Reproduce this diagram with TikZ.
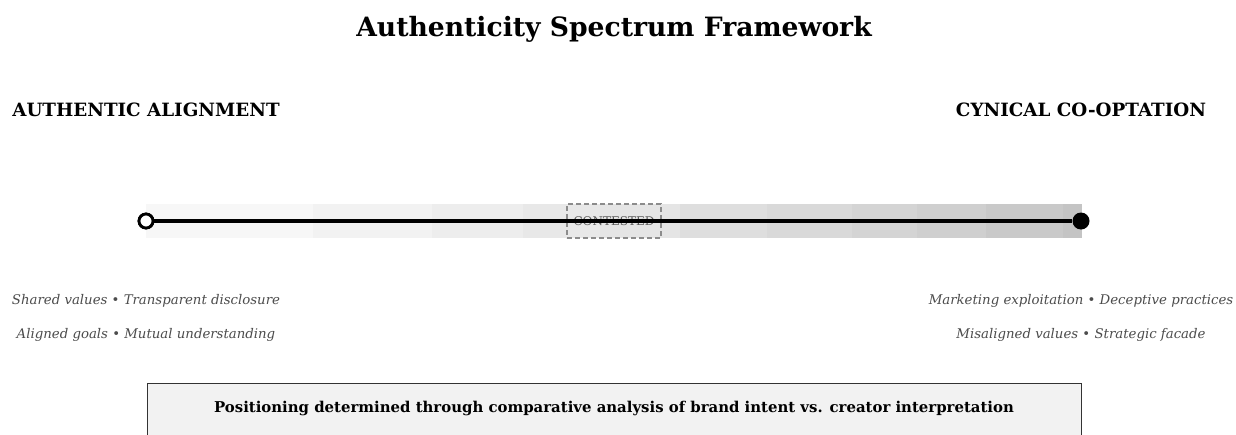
\documentclass[tikz,border=0pt]{standalone}
\usepackage{fontspec}
\setmainfont{DejaVu Serif}
\begin{document}
\begin{tikzpicture}[x=1pt,y=-1pt,
  titletxt/.style={font=\fontsize{26.6}{30}\selectfont\bfseries, inner sep=0pt},
  headtxt/.style={font=\fontsize{18.3}{21}\selectfont\bfseries, inner sep=0pt},
  desctxt/.style={font=\fontsize{13.3}{16}\selectfont\itshape, text=black!70, inner sep=0pt},
  endopen/.style={circle, draw=black, line width=2.8pt, fill=white, minimum size=14pt, inner sep=0pt},
  endfull/.style={circle, fill=black, minimum size=17pt, inner sep=0pt},
  contestbox/.style={draw=black!45, dash pattern=on 5pt off 3pt, line width=1.4pt, fill=none, minimum width=94pt, minimum height=34pt, inner sep=0pt, text=black!65, font=\fontsize{12}{14}\selectfont},
  footbox/.style={draw=black!80, line width=1pt, fill=black!5, minimum width=934pt, minimum height=80pt, inner sep=0pt, anchor=north west}
]
\clip (0,0) rectangle (1236,434);
\fill[white] (0,0) rectangle (1236,434);
% gradient band
\fill[black!3]  (146,204) rectangle (313,238);
\fill[black!5]  (313,204) rectangle (432,238);
\fill[black!7]  (432,204) rectangle (523,238);
\fill[black!9]  (523,204) rectangle (600,238);
\fill[black!10] (600,204) rectangle (680,238);
\fill[black!13] (680,204) rectangle (767,238);
\fill[black!15] (767,204) rectangle (852,238);
\fill[black!17] (852,204) rectangle (917,238);
\fill[black!19] (917,204) rectangle (986,238);
\fill[black!21] (986,204) rectangle (1063,238);
\fill[black!23] (1063,204) rectangle (1082,238);

\node[titletxt] (title) at (614,29) {Authenticity Spectrum Framework};
\node[headtxt] (lhead) at (146,110) {AUTHENTIC ALIGNMENT};
\node[headtxt] (rhead) at (1081,110) {CYNICAL CO-OPTATION};

\node[contestbox] (contest) at (614,221) {CONTESTED};
\node[endopen] (lend) at (146,221) {};
\node[endfull] (rend) at (1081,221) {};
\draw[line width=3.2pt] (lend.east) -- (rend.west);
\node[endopen] at (146,221) {};

\node[desctxt] (l1) at (146,301) {Shared values • Transparent disclosure};
\node[desctxt] (l2) at (146,335) {Aligned goals • Mutual understanding};
\node[desctxt] (r1) at (1081,301) {Marketing exploitation • Deceptive practices};
\node[desctxt] (r2) at (1081,335) {Misaligned values • Strategic facade};

\node[footbox] (foot) at (147,383) {};
\node[font=\fontsize{14.9}{17}\selectfont\bfseries, inner sep=0pt] (foottxt) at (614,408) {Positioning determined through comparative analysis of brand intent vs. creator interpretation};
\end{tikzpicture}
\end{document}
